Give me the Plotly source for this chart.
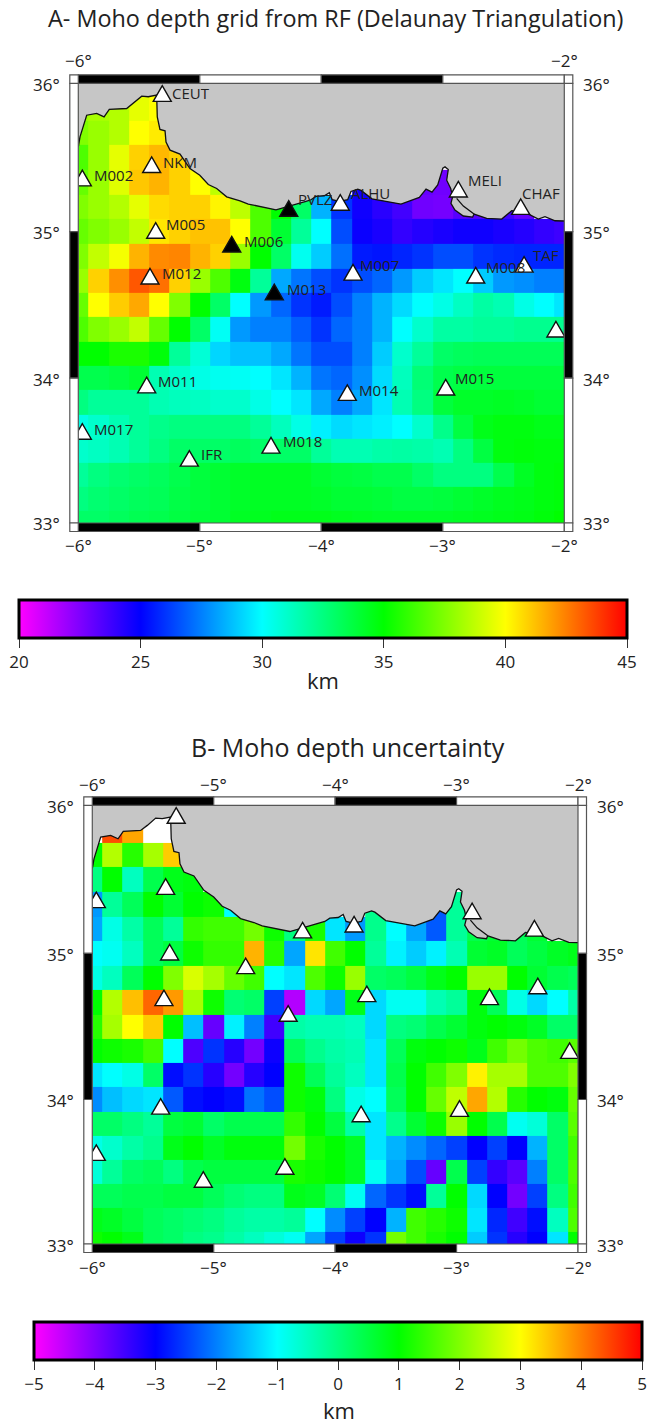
import math
import plotly.graph_objects as go

W, H = 647, 1424
FONT = "Open Sans"
INK = "#222222"

lons = [-6 + i / 6 for i in range(25)]
lats = [36 - r / 6 for r in range(19)]
N = None

depth_rows = [
    [N]*25,
    [38,38.3,38.5,39.5,40]+[N]*20,
    [37.5,38,38.5,40,40.4]+[N]*20,
    [36.5,38,39.5,40.9,41.4,40.9]+[N]*19,
    [37,38,39.4,41.1,41.5,40.9,40,38.7,N,N,N,N,N,N,24.7,N,N,23,22.8]+[N]*6,
    [37.5,38,38.5,39.5,40.7,40.9,40.9,40.2,38.7,36.5,35,33,28.5,26,24.7,24.2,23.7,22.8,22.7,23.3,23.3,23.7,23,N,N],
    [37,37.5,38,38.8,40.5,40.9,41.2,41.2,40,36.5,34,32,30,26.5,24.8,24.5,24,24.3,24.5,24.7,24.7,24.5,24.3,24,23.8],
    [37.5,38.8,39.8,41.5,42.3,42.4,41.5,40.9,38,35,33,30.3,29,27.2,25.5,25.4,25.7,26,26.5,26.5,26,25.8,25.7,25.7,25.7],
    [38,40.9,42.2,43.3,42.8,40.9,38,36.5,34.7,32,28.3,27.3,26.5,26,26.5,27,28,29,29.5,30,29,28,27.8,27.5,27.5],
    [37,40,41,41.7,40,37.5,35,33,30,28,27,26,25.5,26.5,27.5,28.5,29.3,30,30.5,31.2,31.8,31.5,30.5,30,29.5],
    [36.5,37.5,38,38.8,37,35,33,30.2,28,27.5,27.5,26.8,26,27,27.5,28.5,30,31,31.8,31.8,32,32,32.2,32.2,32.2],
    [35,35,35.5,35.5,34.8,32,30.8,29.2,28.8,28.8,28.3,27.3,26.5,26.5,27.5,29,31,32,33,33.2,33.3,33.3,33.3,33.3,33.3],
    [33.5,33.5,33.7,34,31.5,31,30.5,30.3,30.2,30,29.5,28.5,27.3,27,27.8,29.3,31.3,32.7,33.5,33.7,33.8,33.8,33.8,33.8,33.8],
    [32.5,32,32,32,31.5,31.3,31.2,31,31,30.5,30,29.5,28.3,27.5,28.3,29.5,31.5,32.5,33.8,34.2,34.2,34.3,34.2,34,34],
    [30.5,31,31.5,32,32.3,32.5,32.5,32.5,32.5,32,31.3,30.5,29.7,29.3,29.5,29.7,30,31,32.3,33.7,34.5,34.7,34.7,34.5,34.5],
    [31,31.2,31.5,32,32.5,33,33,33,33.2,33,33,33,32,31.5,31.5,31.7,31.8,31.7,31.5,32.5,33.7,34.7,34.8,34.7,34.7],
    [32,32.5,32.8,33,33.2,33.5,33.8,34,34.2,34.3,34.3,34.3,34,33.8,33.7,33.5,33.5,33,32.5,32.5,32.5,33.5,34.3,34.7,34.8],
    [32.5,32.8,33,33.2,33.3,33.6,33.8,34,34.2,34.3,34.3,34.3,34.2,34,34,33.9,33.7,33.7,33.8,34,34.2,34.4,34.5,34.7,34.8],
    [33,33,33.2,33.4,33.5,33.7,33.9,34,34.3,34.4,34.5,34.5,34.5,34.4,34.3,34.2,34.2,34.2,34.2,34.3,34.4,34.5,34.6,34.8,35],
]

uncert_rows = [
    [N]*25,
    [N,4.4,3.7,N,N]+[N]*20,
    [1,2.4,1.3,2.3,3.4]+[N]*20,
    [0,1,-0.5,0.4,0.8,0.9]+[N]*19,
    [-1.8,-0.2,0.3,1,0.6,1,1.1,-1,N,N,N,N,N,N,-0.1,N,N,-2.3,-0.2]+[N]*6,
    [-1.7,-0.8,-0.3,0.3,-0.2,1.4,1.5,1.5,1.9,1.1,0,1.2,-1.2,-1.8,-0.1,-1,-1.7,-2.3,-0.2,0.4,0.6,0.3,0.6,N,N],
    [-1,-0.9,-0.5,0.3,0.5,1.1,1.4,1.4,3.6,1.3,-1.7,3.2,1.5,1,-0.2,-1.1,-1.4,-1.1,-0.4,0.6,0.7,0.3,0.5,0.7,0.8],
    [-0.8,-0.5,0.3,1,2,2.7,2.3,1.8,1.5,-1,-1.2,1.6,1.1,2.2,0.2,0.3,0.5,0.8,1,2.2,2.2,1,0.6,0.4,0.3],
    [1,2.4,3.5,4.2,3.8,2.3,1.1,0.1,0.2,-2.5,-4.4,-1.3,-1.7,0.8,-1.3,-0.9,-0.9,-0.4,-0.2,0.9,0.3,-0.8,-1.3,-1,-0.3],
    [1.3,2.3,3,3.4,1,-1.5,-3.8,-1.1,-2,-3.5,-0.3,-0.4,-0.4,-0.5,-1.3,0,0.1,0.4,0.6,0.9,1,0.9,0.7,0.2,0.2],
    [1,1.1,1.2,1.5,-1,-3.6,-2.6,-3.3,-3.9,-3.1,0.3,-0.1,-0.3,-0.4,-1.2,0.3,0.9,1,1.1,0.8,1.5,1.9,1.6,1.5,1.7],
    [-1.2,-1,-0.8,0.2,-2.9,-2.6,-3.3,-3.9,-3.3,-3,1.1,0.3,-0.2,-0.5,-1.2,0.4,1,1.5,2,3.1,2.3,2.3,1.6,1.6,2],
    [-1.9,-1.5,-1.3,-1.2,-2.3,-2.9,-3,-2.9,-2.1,-2.4,1.1,0.9,0,-0.8,-1,0.3,1,1.8,2.5,3.7,2.4,1.3,1,0.9,1.8],
    [0.2,0.2,0,-0.2,0.5,0.6,0.2,0.4,0.4,0.4,1.4,1,0.5,-0.3,-1.2,-0.1,0.6,1.1,2.2,1,0.4,-0.9,-0.7,0.2,1.7],
    [-0.8,-0.6,-0.3,-0.1,0.8,1,0.7,0.9,0.9,0.9,1.9,1.2,1,0.7,-1.2,-1.6,-1.9,-2.2,-2.5,-3,-2.5,-3,-1.6,0.2,1.5],
    [-0.7,-0.2,0.2,0.3,0,0.4,0.5,0.5,0.5,0.5,1.2,1.1,1,0.7,-0.9,-1.7,-2.4,-3.8,0.4,-2.5,-3.4,-3.7,-2,0.2,1.6],
    [0.3,0.3,0.4,0.4,0.5,0.5,0.3,0.1,0,0,0.8,0.7,0.1,-0.9,-2.2,-2.6,-2.9,-0.2,1,-1.3,-3,-3.9,-2.5,0,1.5],
    [0.8,0.7,0.5,0.3,0.2,0.1,0,-0.2,-0.3,-0.3,-0.2,-1,-1.9,-2.5,-3,-1.6,1.5,1.3,1.1,-1.2,-2.7,-3.5,-2.9,-0.5,1.6],
    [1.1,1,0.8,0.3,0.2,0,-0.1,-0.3,-0.5,-0.7,-0.9,-1.7,-2.5,-3.1,-2.6,1.9,1.5,1.2,1,-1.4,-2.6,-3.3,-3,-1.2,1],
]
for table in (depth_rows, uncert_rows):
    assert len(table) == 19 and all(len(row) == 25 for row in table)

coast_lon = [-6,-5.986,-5.931,-5.849,-5.788,-5.745,-5.602,-5.547,-5.478,-5.424,-5.355,-5.35,-5.328,-5.286,-5.278,-5.245,-5.163,-5.081,-5,-4.93,-4.861,-4.779,-4.669,-4.601,-4.373,-4.126,-4.085,-4.044,-3.975,-3.934,-3.91,-3.852,-3.783,-3.756,-3.7,-3.673,-3.583,-3.344,-3.193,-3.138,-3.089,-3.042,-3,-2.982,-2.955,-2.968,-2.935,-2.919,-2.933,-2.9,-2.831,-2.754,-2.743,-2.639,-2.515,-2.433,-2.351,-2.282,-2.214,-2.159,-2.076,-2]
coast_lat = [35.573,35.64,35.786,35.798,35.775,35.825,35.831,35.865,35.914,35.91,35.921,35.775,35.69,35.681,35.606,35.551,35.524,35.427,35.382,35.319,35.292,35.236,35.209,35.187,35.148,35.205,35.216,35.239,35.243,35.263,35.216,35.205,35.216,35.272,35.288,35.279,35.222,35.187,35.232,35.288,35.268,35.317,35.429,35.438,35.42,35.348,35.292,35.236,35.191,35.146,35.106,35.099,35.119,35.09,35.085,35.142,35.135,35.113,35.085,35.101,35.074,35.072]
barrier_lon = [-2.886,-2.831,-2.743]
barrier_lat = [35.225,35.173,35.119]

station_names = ["CEUT","NKM","M002","M005","M006","M012","M013","PVLZ","ALHU","MELI","CHAF","TAF","M007","M008","M014","M015","M011","M017","IFR","M018",""]
station_lon = [-5.309,-5.396,-5.967,-5.363,-4.737,-5.41,-4.387,-4.268,-3.844,-2.872,-2.359,-2.331,-3.739,-2.729,-3.786,-2.976,-5.437,-5.967,-5.086,-4.414,-2.069]
station_lat = [35.914,35.435,35.345,34.99,34.897,34.679,34.572,35.14,35.18,35.27,35.152,34.76,34.706,34.686,33.883,33.92,33.935,33.616,33.43,33.52,34.318]
station_black = ["M006","M013","PVLZ"]
label_lon = [-5.239,-5.312,-5.877,-5.286,-4.647,-5.322,-4.293,-4.2,-3.764,-2.803,-2.359,-2.266,-3.689,-2.656,-3.696,-2.905,-5.351,-5.877,-5,-4.326,-2.069]
label_lat = [35.937,35.472,35.382,35.05,34.937,34.718,34.609,35.22,35.259,35.348,35.265,34.842,34.774,34.762,33.922,34.002,33.979,33.648,33.479,33.566,34.318]

rainbow = [[0,"#ff00ff"],[0.2,"#0000ff"],[0.4,"#00ffff"],[0.6,"#00ff00"],[0.8,"#ffff00"],[1,"#ff0000"]]
lon_ticks = [-6,-5,-4,-3,-2]
lat_ticks = [36,35,34,33]
depth_ticks = [20,25,30,35,40,45]
uncert_ticks = [-5,-4,-3,-2,-1,0,1,2,3,4,5]


def merc(lat):
    return math.degrees(math.log(math.tan(math.radians(45 + lat / 2))))


def fx(px):
    return px / W


def fy(py):
    return 1 - py / H


panels = [
    dict(z=depth_rows, zmin=20, zmax=45, ticks=depth_ticks, x0=78.3, x1=564.3, y0=83.3, y1=523,
         bar=(19, 608, 600, 38), black=station_black, labels=True, top=[-6, -2], km=(323, 680),
         xax="x", yax="y", lab_left=62, lab_right=581, lab_top=60.7, lab_bot=545),
    dict(z=uncert_rows, zmin=-5, zmax=5, ticks=uncert_ticks, x0=92.3, x1=578, y0=805.3, y1=1244,
         bar=(34, 608, 1322, 38), black=[], labels=False, top=lon_ticks, km=(339, 1410),
         xax="x2", yax="y2", lab_left=76, lab_right=595, lab_top=784.5, lab_bot=1267),
]

fig = go.Figure()
shapes, annos = [], []


def rect(a, b, c, d, fill, line="#555555", lw=1.2):
    shapes.append(dict(type="rect", xref="paper", yref="paper", x0=fx(a), x1=fx(b), y0=fy(d), y1=fy(c),
                       fillcolor=fill, line=dict(color=line, width=lw), layer="above"))


def text_at(text, px, py, anchor, size):
    annos.append(dict(text=text, xref="paper", yref="paper", x=fx(px), y=fy(py), xanchor=anchor, yanchor="middle",
                      showarrow=False, font=dict(family=FONT, size=size, color=INK)))


for p in panels:
    ys = [merc(v) for v in lats]
    fig.add_trace(go.Heatmap(x=lons, y=ys, z=p["z"], zmin=p["zmin"], zmax=p["zmax"], colorscale=rainbow,
                             xaxis=p["xax"], yaxis=p["yax"], hoverongaps=False,
                             colorbar=dict(orientation="h", x=fx(p["bar"][0]), xanchor="left", xpad=0, ypad=0,
                                           y=fy(p["bar"][2]), yanchor="top", lenmode="pixels", len=p["bar"][1],
                                           thicknessmode="pixels", thickness=p["bar"][3], outlinewidth=3,
                                           outlinecolor="#000000", ticks="outside", ticklen=9, tickcolor="#333333",
                                           tickvals=p["ticks"], tickfont=dict(family=FONT, size=17, color=INK))))
    land_x = coast_lon + [-1.9, -1.9, -6.1, -6.1]
    land_y = [merc(v) for v in coast_lat] + [merc(35.07), merc(36.1), merc(36.1), merc(35.573)]
    fig.add_trace(go.Scatter(x=land_x, y=land_y, mode="lines", fill="toself", fillcolor="#c6c6c6",
                             line=dict(width=0), hoverinfo="skip", showlegend=False,
                             xaxis=p["xax"], yaxis=p["yax"]))
    for xs, yl in ((coast_lon, coast_lat), (barrier_lon, barrier_lat)):
        fig.add_trace(go.Scatter(x=xs, y=[merc(v) for v in yl], mode="lines", line=dict(color="#111111", width=1.3),
                                 hoverinfo="skip", showlegend=False, xaxis=p["xax"], yaxis=p["yax"]))
    colors = ["#000000" if n in p["black"] else "#ffffff" for n in station_names]
    fig.add_trace(go.Scatter(x=station_lon, y=[merc(v) for v in station_lat], mode="markers", text=station_names,
                             marker=dict(symbol="triangle-up", size=12, color=colors),
                             showlegend=False, xaxis=p["xax"], yaxis=p["yax"]))
    # equilateral outline for each station, anchored on the axes, fixed size in pixels
    for lon, lat, col in zip(station_lon, station_lat, colors):
        shapes.append(dict(type="path", xref=p["xax"], yref=p["yax"], xsizemode="pixel", ysizemode="pixel",
                           xanchor=lon, yanchor=merc(lat), path="M-9,-5.2 L9,-5.2 L0,10.4 Z",
                           fillcolor=col, line=dict(color="#111111", width=1.4), layer="above"))
    if p["labels"]:
        for name, lon, lat in zip(station_names, label_lon, label_lat):
            if name:
                annos.append(dict(text=name, xref=p["xax"], yref=p["yax"], x=lon, y=merc(lat), xanchor="left",
                                  yanchor="middle", showarrow=False, borderpad=0,
                                  font=dict(family=FONT, size=15, color=INK)))

    pad = 8.5
    x0, x1, y0, y1 = p["x0"], p["x1"], p["y0"], p["y1"]
    dx = (x1 - x0) / 4
    m = lambda v: y0 + (y1 - y0) * (merc(36) - merc(v)) / (merc(36) - merc(33))
    for i in range(4):
        fill = "#000000" if i % 2 == 0 else "#ffffff"
        a, b = x0 + i * dx, x0 + (i + 1) * dx
        rect(a, b, y0 - pad, y0, fill)
        rect(a, b, y1, y1 + pad, fill)
    for i in range(3):
        fill = "#ffffff" if i % 2 == 0 else "#000000"
        a, b = m(36 - i), m(35 - i)
        rect(x0 - pad, x0, a, b, fill)
        rect(x1, x1 + pad, a, b, fill)
    for a, b in ((x0 - pad, x0), (x1, x1 + pad)):
        for c, d in ((y0 - pad, y0), (y1, y1 + pad)):
            rect(a, b, c, d, "#ffffff")

    for v in lat_ticks:
        py = m(v) + 1
        text_at(f"{v}°", p["lab_left"], py, "right", 17)
        text_at(f"{v}°", p["lab_right"], py, "left", 17)
    for v in lon_ticks:
        px = x0 + (v + 6) * dx
        text_at(f"\u2212{abs(v)}°", px, p["lab_bot"], "center", 17)
        if v in p["top"]:
            text_at(f"\u2212{abs(v)}°", px, p["lab_top"], "center", 17)
    text_at("km", p["km"][0], p["km"][1], "center", 22)

    sub = "" if p["xax"] == "x" else "2"
    fig.layout[f"xaxis{sub}"] = dict(domain=[fx(x0), fx(x1)], range=[-6, -2], visible=False, anchor=p["yax"], fixedrange=True)
    fig.layout[f"yaxis{sub}"] = dict(domain=[fy(y1), fy(y0)], range=[merc(33), merc(36)], visible=False, anchor=p["xax"], fixedrange=True)

text_at("A- Moho depth grid from RF (Delaunay Triangulation)", 335, 18, "center", 23.4)
text_at("B- Moho depth uncertainty", 348, 747, "center", 25)

fig.update_layout(width=W, height=H, autosize=False, margin=dict(l=0, r=0, t=0, b=0, autoexpand=False),
                  paper_bgcolor="#ffffff", plot_bgcolor="#ffffff", showlegend=False,
                  shapes=shapes, annotations=annos, font=dict(family=FONT, color=INK))
fig.write_html("out.html", config=dict(displayModeBar=False),
               post_script="document.body.style.margin='0';document.documentElement.style.overflow='hidden';")
